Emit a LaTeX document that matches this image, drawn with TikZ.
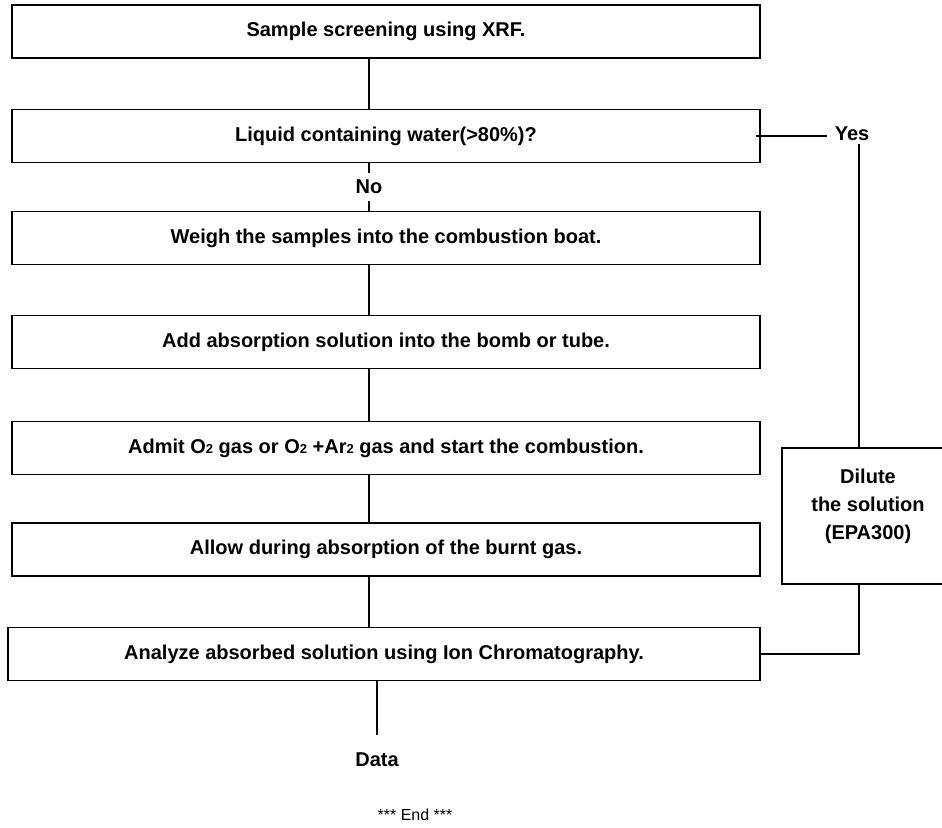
\documentclass[tikz,border=0pt]{standalone}
\usepackage{fontspec}
\setmainfont{Liberation Sans}
\usetikzlibrary{positioning}

\newcommand{\smalltwo}[1]{{\fontsize{13}{13}\selectfont #1}}

\begin{document}
\begin{tikzpicture}[x=1pt, y=-1pt,
    stepbox/.style={draw, line width=1.5pt, minimum width=748pt, minimum height=53pt, inner sep=0pt, font=\fontsize{20}{24}\selectfont\bfseries},
    lbl/.style={inner sep=1pt, font=\fontsize{20}{24}\selectfont\bfseries},
    link/.style={line width=1.5pt}
]
    \useasboundingbox (0,0) rectangle (942,827);
    \clip (0,0) rectangle (942,827);

    \node[stepbox] (screen)  at (386,31.5)  {Sample screening using XRF.};
    \node[stepbox] (liquid)  at (386,136)   {Liquid containing water(>80\%)?};
    \node[stepbox] (weigh)   at (386,238)   {Weigh the samples into the combustion boat.};
    \node[stepbox] (absorb)  at (386,342)   {Add absorption solution into the bomb or tube.};
    \node[stepbox] (admit)   at (386,448)   {Admit O\smalltwo{2} gas or O\smalltwo{2} +Ar\smalltwo{2} gas and start the combustion.};
    \node[stepbox] (allow)   at (386,549.5) {Allow during absorption of the burnt gas.};
    \node[stepbox, minimum width=752pt] (analyze) at (384,654) {Analyze absorbed solution using Ion Chromatography.};

    \node[lbl, inner sep=8pt] (yes) at (852,134) {Yes};
    \node[draw, line width=1.5pt, minimum width=170pt, minimum height=136pt] (dilute) at (867,516) {};
    \node[lbl, align=center, font=\fontsize{20}{28}\selectfont\bfseries] (dilutetxt) at (868,506) {Dilute\\the solution\\(EPA300)};
    \node[lbl] (data) at (377,760) {Data};
    \node[font=\fontsize{16}{18}\selectfont] (end) at (415,815) {*** End ***};

    \coordinate (spine) at (369,0);
    \coordinate (side) at (859,0);

    \draw[link] (screen.south -| spine) -- (liquid.north -| spine);
    \draw[link] (liquid.south -| spine) -- node[lbl, fill=white, inner sep=7pt]{No} (weigh.north -| spine);
    \draw[link] (weigh.south -| spine) -- (absorb.north -| spine);
    \draw[link] (absorb.south -| spine) -- (admit.north -| spine);
    \draw[link] (admit.south -| spine) -- (allow.north -| spine);
    \draw[link] (allow.south -| spine) -- (analyze.north -| spine);
    \draw[link] (analyze.south -| data) -- ([yshift=17pt]data.north);

    \draw[link] ([xshift=-5pt]liquid.east) -- (liquid.east -| yes.west);
    \draw[link] ([yshift=5pt]yes.south -| side) -- (dilute.north -| side);
    \draw[link] (dilute.south -| side) |- (analyze.east);
\end{tikzpicture}
\end{document}
